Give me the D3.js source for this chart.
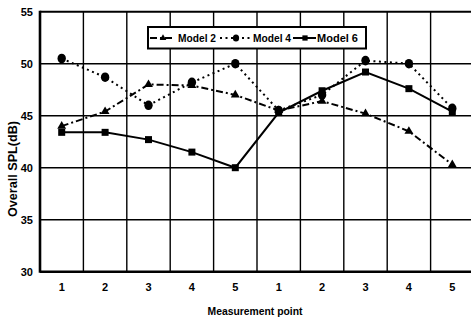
<!DOCTYPE html>
<html>
<head>
<meta charset="utf-8">
<script src="https://cdn.jsdelivr.net/npm/d3@7"></script>
<style>
  html, body { margin: 0; padding: 0; background: #fff; }
  svg { display: block; }
  text { font-family: "Liberation Sans", Arial, sans-serif; font-weight: bold; fill: #000; }
</style>
</head>
<body>
<svg id="chart" width="471" height="321"></svg>
<script>
// Measurement points (two groups of five positions)
const points = ["1", "2", "3", "4", "5", "1", "2", "3", "4", "5"];
// Overall SPL in dB for each model
const model2 = [44.0, 45.4, 48.0, 47.9, 47.0, 45.5, 46.4, 45.2, 43.5, 40.3];
const model4 = [50.5, 48.7, 46.0, 48.2, 50.0, 45.5, 47.0, 50.3, 50.0, 45.7];
const model6 = [43.4, 43.4, 42.7, 41.5, 40.0, 45.3, 47.4, 49.2, 47.6, 45.4];
const yTicks = [30, 35, 40, 45, 50, 55];
const seriesNames = ["Model 2", "Model 4", "Model 6"];

const margin = { left: 40, top: 11.7 };
const plotW = 434, plotH = 260;

const svg = d3.select("#chart");
const g = svg.append("g").attr("transform", `translate(${margin.left},${margin.top})`);

const idx = d3.range(points.length);
const x = d3.scaleBand().domain(idx).range([0, plotW]);
const y = d3.scaleLinear().domain([30, 55]).range([plotH, 0]);
const cx = i => x(i) + x.bandwidth() / 2;

// Grid: horizontal lines at y ticks, vertical lines at band boundaries
g.append("g").selectAll("line").data(yTicks.slice(1, -1)).join("line")
  .attr("x1", 0).attr("x2", plotW)
  .attr("y1", d => y(d)).attr("y2", d => y(d))
  .attr("stroke", "#000").attr("stroke-width", 1.6);
g.append("g").selectAll("line").data(idx.slice(1)).join("line")
  .attr("x1", d => x(d)).attr("x2", d => x(d))
  .attr("y1", 0).attr("y2", plotH)
  .attr("stroke", "#000").attr("stroke-width", 1.4);

// Frame
g.append("line").attr("x1", 0).attr("x2", plotW).attr("y1", 0).attr("y2", 0)
  .attr("stroke", "#000").attr("stroke-width", 2);
g.append("line").attr("x1", 0).attr("x2", plotW).attr("y1", plotH).attr("y2", plotH)
  .attr("stroke", "#000").attr("stroke-width", 2.6);
g.append("line").attr("x1", 0).attr("x2", 0).attr("y1", -1).attr("y2", plotH + 1)
  .attr("stroke", "#000").attr("stroke-width", 2.6);

// Axes (labels only; lines drawn by the frame above)
const yAxis = g.append("g").call(d3.axisLeft(y).tickValues(yTicks).tickSize(0).tickPadding(7));
yAxis.select(".domain").remove();
yAxis.selectAll("text").attr("font-size", 11).style("font-family", "'Liberation Sans', Arial, sans-serif").style("font-weight", "bold");

const xAxis = g.append("g").attr("transform", `translate(0,${plotH})`)
  .call(d3.axisBottom(x).tickFormat(i => points[i]).tickSize(0).tickPadding(12));
xAxis.select(".domain").remove();
xAxis.selectAll("text").attr("font-size", 11).style("font-family", "'Liberation Sans', Arial, sans-serif").style("font-weight", "bold");

// Axis titles (condensed lettering)
svg.append("text").attr("x", 255).attr("y", 315).attr("text-anchor", "middle")
  .attr("font-size", 11).attr("textLength", 95).attr("lengthAdjust", "spacingAndGlyphs")
  .text("Measurement point");
svg.append("text").attr("transform", "translate(17,169) rotate(-90)")
  .attr("text-anchor", "middle").attr("font-size", 12)
  .attr("textLength", 96).attr("lengthAdjust", "spacingAndGlyphs")
  .text("Overall SPL(dB)");

// Series
const series = [
  { name: seriesNames[0], values: model2, dash: "7,3,2,3", marker: "triangle" },
  { name: seriesNames[1], values: model4, dash: "2,3.5", marker: "circle" },
  { name: seriesNames[2], values: model6, dash: null, marker: "square" }
];

const line = d3.line().x((d, i) => cx(i)).y(d => y(d));

function drawMarker(sel, type, px, py, k = 1) {
  if (type === "triangle") {
    sel.append("path").attr("d", d3.symbol(d3.symbolTriangle, 34 * k * k)())
      .attr("transform", `translate(${px},${py})`).attr("fill", "#000");
  } else if (type === "circle") {
    sel.append("ellipse").attr("cx", px).attr("cy", py).attr("rx", 4.2 * k).attr("ry", 4.8 * k).attr("fill", "#000");
  } else {
    sel.append("rect").attr("x", px - 3.5 * k).attr("y", py - 3.5 * k)
      .attr("width", 7 * k).attr("height", 7 * k).attr("fill", "#000");
  }
}

series.forEach(s => {
  const sg = g.append("g");
  sg.append("path").datum(s.values).attr("d", line)
    .attr("fill", "none").attr("stroke", "#000").attr("stroke-width", 2)
    .attr("stroke-dasharray", s.dash);
  s.values.forEach((v, i) => drawMarker(sg, s.marker, cx(i), y(v)));
});

// Legend
const lg = svg.append("g");
lg.append("rect").attr("x", 148).attr("y", 27).attr("width", 218).attr("height", 21.5)
  .attr("fill", "#fff").attr("stroke", "#000").attr("stroke-width", 2);
const legendItems = [
  { s: series[0], x0: 150, x1: 173, mx: 163, tx: 178, tw: 38 },
  { s: series[1], x0: 220, x1: 251, mx: 236, tx: 253, tw: 38 },
  { s: series[2], x0: 293, x1: 316, mx: 305, tx: 317, tw: 41 }
];
const ly = 38;
legendItems.forEach(it => {
  lg.append("line").attr("x1", it.x0).attr("x2", it.x1).attr("y1", ly).attr("y2", ly)
    .attr("stroke", "#000").attr("stroke-width", 2).attr("stroke-dasharray", it.s.dash);
  drawMarker(lg, it.s.marker, it.mx, ly, 0.75);
  lg.append("text").attr("x", it.tx).attr("y", ly + 4).attr("font-size", 11)
    .attr("textLength", it.tw).attr("lengthAdjust", "spacingAndGlyphs").text(it.s.name);
});
</script>
</body>
</html>
